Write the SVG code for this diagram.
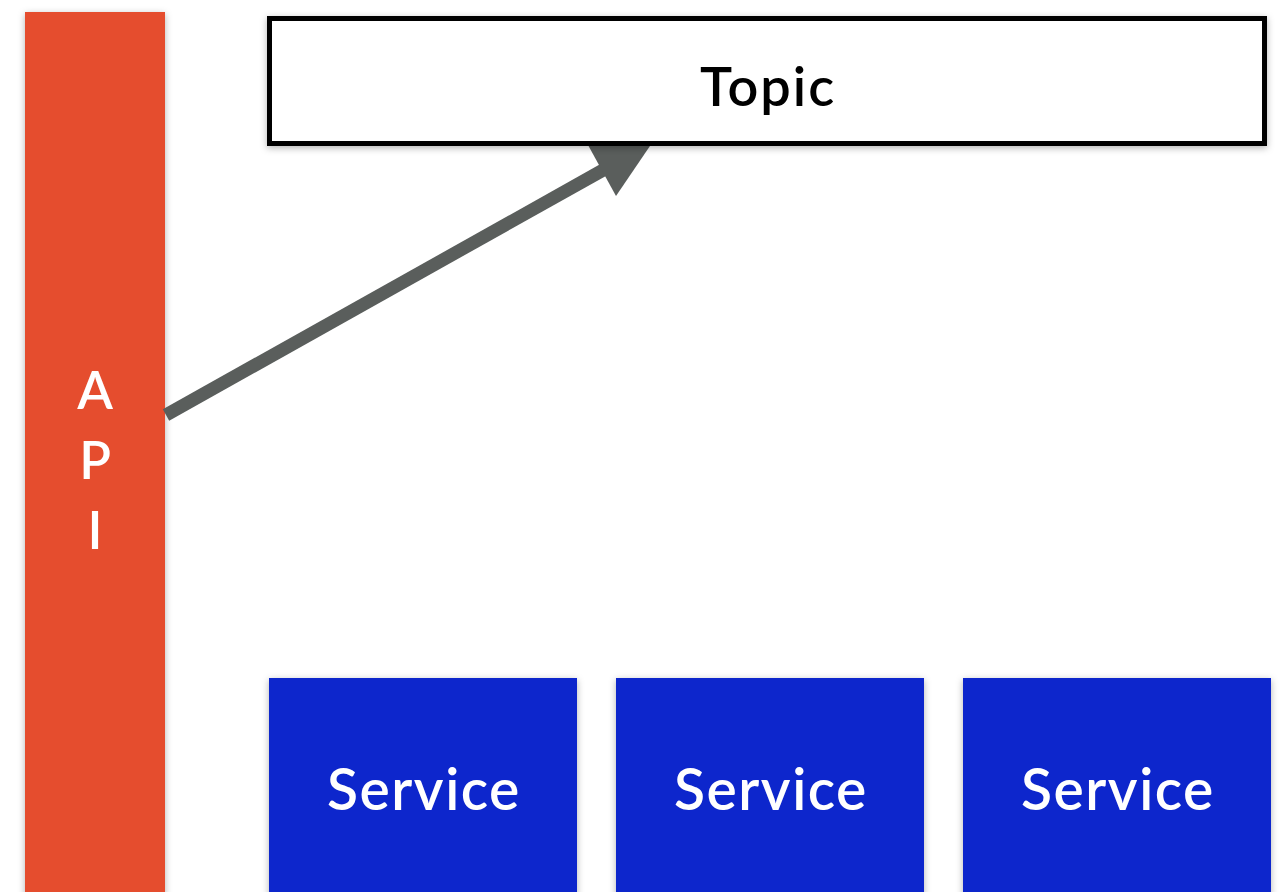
<svg xmlns="http://www.w3.org/2000/svg" width="1283" height="892" viewBox="0 0 1283 892">
<style>
.lbl{font-family:Lato,"Open Sans","Liberation Sans",sans-serif;font-weight:600;text-anchor:middle}
.svc{fill:#0D27CC}
.svct{fill:#ffffff;font-size:57px;letter-spacing:1.5px}
.api{fill:#E54D2E}
.apit{fill:#ffffff;font-size:52px}
.topic{fill:#ffffff;stroke:#000000;stroke-width:5}
.topict{fill:#000000;font-size:54px;letter-spacing:2px}
.conn{stroke:#5A5E5C;stroke-width:13;fill:none}
</style>
<defs>
<filter id="sh" x="-10%" y="-10%" width="120%" height="130%">
<feDropShadow dx="0" dy="2" stdDeviation="3.5" flood-color="#000" flood-opacity="0.3"/>
</filter>
</defs>
<rect width="1283" height="892" fill="#ffffff"/>
<g id="api">
<rect class="api" x="25" y="12" width="140" height="890" filter="url(#sh)"/>
<text class="lbl apit" x="95" y="409">A</text>
<text class="lbl apit" x="95" y="479">P</text>
<text class="lbl apit" x="95" y="549">I</text>
</g>
<g id="connectors">
<line class="conn" x1="166" y1="415" x2="605" y2="169"/>
<polygon points="588,145 616,196 652,143" fill="#5A5E5C"/>
</g>
<g id="topic">
<rect class="topic" x="269.5" y="18.5" width="995" height="125" filter="url(#sh)"/>
<text class="lbl topict" x="768" y="106">Topic</text>
</g>
<g id="service1">
<rect class="svc" x="269" y="678" width="308" height="230" filter="url(#sh)"/>
<text class="lbl svct" x="424" y="810">Service</text>
</g>
<g id="service2">
<rect class="svc" x="616" y="678" width="308" height="230" filter="url(#sh)"/>
<text class="lbl svct" x="771" y="810">Service</text>
</g>
<g id="service3">
<rect class="svc" x="963" y="678" width="308" height="230" filter="url(#sh)"/>
<text class="lbl svct" x="1118" y="810">Service</text>
</g>
</svg>
